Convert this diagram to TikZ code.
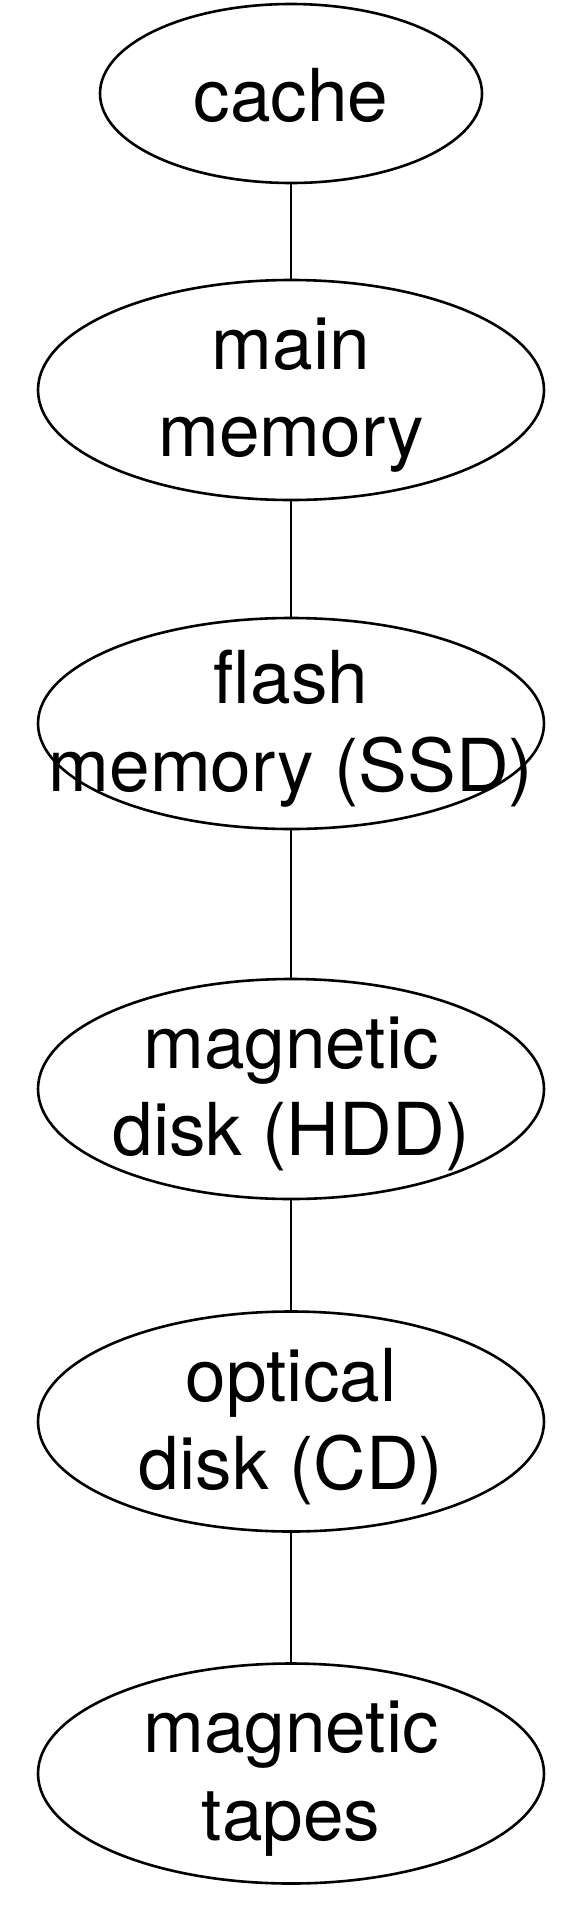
\documentclass[tikz,border=0pt]{standalone}
\usepackage{fontspec}
\setmainfont{TeX Gyre Heros}
\usetikzlibrary{shapes.geometric}

\tikzset{
  store/.style={ellipse, draw, line width=1.3pt, inner sep=0pt,
    minimum width=253pt, minimum height=110pt},
  storetext/.style={align=center, inner sep=0pt, yshift=-2.5pt,
    font=\fontsize{36.5}{43.8}\selectfont},
  link/.style={line width=1.3pt}
}

\begin{document}
\begin{tikzpicture}[x=0.5pt,y=-0.5pt]
\useasboundingbox (0,0) rectangle (577,1906);

\node[store, minimum width=191pt, minimum height=89.5pt] (cache) at (291,93.5) {};
\node[store] (main) at (291,390) {};
\node[store, minimum height=105.5pt] (flash) at (291,723.5) {};
\node[store] (hdd) at (291,1089) {};
\node[store] (cd) at (291,1421.5) {};
\node[store] (tape) at (291,1773.5) {};

\node[storetext, yshift=1.5pt] (cache-t) at (cache) {cache};
\node[storetext] (main-t) at (main) {main\\memory};
\node[storetext] (flash-t) at (flash) {flash\\memory (SSD)};
\node[storetext] (hdd-t) at (hdd) {magnetic\\disk (HDD)};
\node[storetext] (cd-t) at (cd) {optical\\disk (CD)};
\node[storetext] (tape-t) at (tape) {magnetic\\tapes};

\draw[link] (cache) -- (main);
\draw[link] (main) -- (flash);
\draw[link] (flash) -- (hdd);
\draw[link] (hdd) -- (cd);
\draw[link] (cd) -- (tape);
\end{tikzpicture}
\end{document}
